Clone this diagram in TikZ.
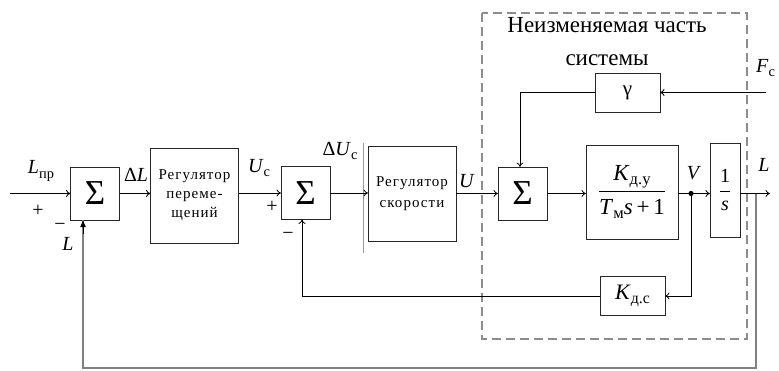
\documentclass[tikz,border=0pt]{standalone}
\usepackage{fontspec}
\setmainfont{Liberation Serif}
\usetikzlibrary{arrows.meta}
% lowered, reduced subscript for text-mode symbols
\newcommand\lowix[1]{\raisebox{-0.45ex}{\scalebox{0.72}{#1}}}
\newcommand\fsz[1]{\fontsize{#1}{#1}\selectfont}
\begin{document}
\begin{tikzpicture}[x=1pt,y=-1pt,
  blk/.style={draw=black!85, line width=0.9pt, inner sep=0pt, outer sep=0pt},
  sumblk/.style={blk, minimum width=49pt, minimum height=53pt, font={\fsz{35}}},
  regblk/.style={blk, minimum width=88pt, minimum height=95pt, align=center,
    font={\fontsize{15}{19}\selectfont\addfontfeature{LetterSpace=7}}},
  sig/.style={draw=black, line width=0.8pt, -{To[length=4.5pt,width=7pt]}},
  wire/.style={draw=black, line width=0.8pt},
  fbk/.style={draw=black!50, line width=1.4pt},
  frame/.style={draw=black!45, line width=1.4pt, dash pattern=on 9pt off 5pt},
  lbl/.style={inner sep=0pt, font={\fsz{20}}},
  ttl/.style={inner sep=0pt, font={\fsz{23}}}]
\clip (0,0) rectangle (779,370);

% boundary of the fixed part of the system
\draw[frame] (482,13) rectangle (747,339);
\node[ttl] (t1) at (607,25) {Неизменяемая часть};
\node[ttl] (t2) at (607,60) {системы};

% blocks
\node[sumblk] (s1) at (95,193.5) {Σ};
\node[regblk] (r1) at (194.5,195.5) {Регулятор\\переме-\\щений};
\node[sumblk] (s2) at (305.5,193) {Σ};
\draw[draw=black!40, line width=0.6pt] (363,143) -- (363,253);
\node[regblk, font={\fontsize{15}{21}\selectfont\addfontfeature{LetterSpace=7}}] (r2) at (412,193.5) {Регулятор\\скорости};
\node[sumblk] (s3) at (522.5,193.5) {Σ};
\node[blk, minimum width=92pt, minimum height=94pt, font={\fsz{23}}] (kb) at (632,192)
  {$\displaystyle\frac{\hbox{\textit{K}\lowix{д.у}}}{\hbox{\textit{T}\lowix{м}\textit{s}\,+\,1}}$};
\node[blk, minimum width=30pt, minimum height=94pt, font={\fsz{20}}] (is) at (725,190)
  {$\displaystyle\frac{\hbox{1}}{\hbox{\textit{s}}}$};
\node[blk, minimum width=65pt, minimum height=39pt, font={\fsz{21}}] (gam) at (627.5,92.5) {γ};
\node[blk, minimum width=65pt, minimum height=39pt, font={\fsz{22}}] (kds) at (632.5,296)
  {\textit{K}\lowix{д.с}};

% free ends
\coordinate (in) at (10,193.5);
\coordinate (dot) at (691,193.5);
\coordinate (out) at (770,193.5);
\coordinate (tap) at (756,193.5);
\coordinate (fbc) at (756,368);
\coordinate (fin) at (766,92.5);

% forward path
\draw[sig] (in) -- (s1.west);
\draw[sig] (s1.east) -- (r1.west |- s1.east);
\draw[sig] (r1.east |- s2.west) -- (s2.west);
\draw[sig] (s2.east) -- (r2.west |- s2.east);
\draw[sig] (r2.east |- s3.west) -- (s3.west);
\draw[sig] (s3.east) -- (kb.west |- s3.east);
\draw[sig] (kb.east |- dot) -- (is.west |- dot);
\draw[sig] (is.east |- out) -- (out);
\fill (dot) circle (2.6pt);

% disturbance path
\draw[sig] (fin) -- (gam.east);
\draw[sig] (gam.west) -| ([xshift=-2.5pt]s3.north);

% speed feedback
\draw[sig] (dot) |- (kds.east);
\draw[sig] (kds.west) -| ([xshift=-3.5pt]s2.south);

% position feedback
\draw[fbk] (tap) -- (fbc) -| ([xshift=-12pt]s1.south);
\draw[line width=1pt, -{Latex[length=7pt,width=6pt]}] ([xshift=-12pt,yshift=-14pt]s1.south) -- ([xshift=-12pt]s1.south);

% signal labels
\node[lbl] (lLpr) at (41,171) {\textit{L}\lowix{пр}};
\node[lbl] (lp1) at (38,211) {+};
\node[lbl] (lm1) at (60,227) {−};
\node[lbl] (lL1) at (68,244) {\textit{L}};
\node[lbl] (ldL) at (136,175) {Δ\textit{L}};
\node[lbl] (lUc) at (259,168) {\textit{U}\lowix{с}};
\node[lbl] (lp2) at (272,207) {+};
\node[lbl] (lm2) at (288,236) {−};
\node[lbl] (ldUc) at (340,151) {Δ\textit{U}\lowix{с}};
\node[lbl] (lU) at (467,181) {\textit{U}};
\node[lbl] (lV) at (694,173) {\textit{V}};
\node[lbl] (lL2) at (764,165) {\textit{L}};
\node[lbl, anchor=west] (lF) at (756,68) {\textit{F}\lowix{с}};
\end{tikzpicture}
\end{document}
